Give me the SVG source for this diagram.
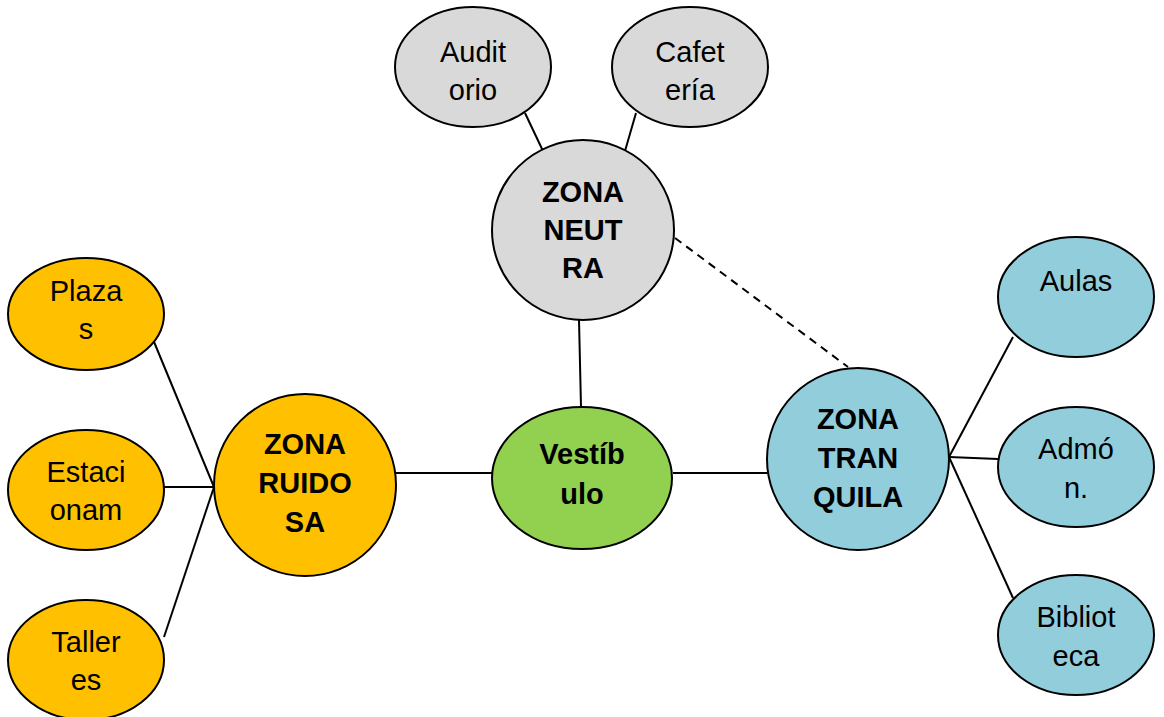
<svg xmlns="http://www.w3.org/2000/svg" width="1164" height="717" viewBox="0 0 1164 717">
<style>
.n{stroke:#000;stroke-width:2}
.y{fill:#FFC000}.g{fill:#D9D9D9}.v{fill:#92D050}.b{fill:#92CDDC}
text{font-family:"Liberation Sans",Arial,sans-serif;font-size:29px;fill:#000;text-anchor:middle}
.bd{font-weight:bold}
.c line{stroke:#000;stroke-width:2}
.d{stroke-dasharray:8 6}
</style>
<rect width="1164" height="717" fill="#fff"/>
<g class="c" id="connectors">
<line x1="525" y1="113" x2="543" y2="151"/>
<line x1="636" y1="113" x2="625" y2="151"/>
<line class="d" x1="675" y1="238" x2="848" y2="367"/>
<line x1="579" y1="320" x2="581" y2="407"/>
<line x1="152" y1="337" x2="214" y2="487"/>
<line x1="164" y1="487" x2="214" y2="487"/>
<line x1="164" y1="637" x2="214" y2="487"/>
<line x1="396" y1="473" x2="493" y2="473"/>
<line x1="673" y1="473" x2="768" y2="473"/>
<line x1="949" y1="457" x2="1013" y2="337"/>
<line x1="949" y1="457" x2="998" y2="459"/>
<line x1="949" y1="457" x2="1013" y2="598"/>
</g>
<g id="auditorio"><ellipse class="n g" cx="473" cy="67" rx="78" ry="60"/><text x="473" y="62">Audit</text><text x="473" y="100">orio</text></g>
<g id="cafeteria"><ellipse class="n g" cx="690" cy="67" rx="78" ry="60"/><text x="690" y="62">Cafet</text><text x="690" y="100">ería</text></g>
<g id="neutra"><ellipse class="n g" cx="583" cy="230" rx="91" ry="90"/><text class="bd" x="583" y="202">ZONA</text><text class="bd" x="583" y="240">NEUT</text><text class="bd" x="583" y="278">RA</text></g>
<g id="plazas"><ellipse class="n y" cx="86" cy="314" rx="78" ry="56"/><text x="86" y="301">Plaza</text><text x="86" y="339">s</text></g>
<g id="estacionam"><ellipse class="n y" cx="86" cy="490" rx="78" ry="60"/><text x="86" y="482">Estaci</text><text x="86" y="520">onam</text></g>
<g id="talleres"><ellipse class="n y" cx="86" cy="660" rx="78" ry="60"/><text x="86" y="652">Taller</text><text x="86" y="690">es</text></g>
<g id="ruidosa"><ellipse class="n y" cx="305" cy="485" rx="91" ry="91"/><text class="bd" x="305" y="454">ZONA</text><text class="bd" x="305" y="493">RUIDO</text><text class="bd" x="305" y="532">SA</text></g>
<g id="vestibulo"><ellipse class="n v" cx="582" cy="478" rx="90" ry="71"/><text class="bd" x="582" y="464">Vestíb</text><text class="bd" x="582" y="504">ulo</text></g>
<g id="tranquila"><ellipse class="n b" cx="858" cy="459" rx="91" ry="91"/><text class="bd" x="858" y="429">ZONA</text><text class="bd" x="858" y="468">TRAN</text><text class="bd" x="858" y="507">QUILA</text></g>
<g id="aulas"><ellipse class="n b" cx="1076" cy="297" rx="78" ry="60"/><text x="1076" y="291">Aulas</text></g>
<g id="admon"><ellipse class="n b" cx="1076" cy="467" rx="78" ry="60"/><text x="1076" y="459">Admó</text><text x="1076" y="498">n.</text></g>
<g id="biblioteca"><ellipse class="n b" cx="1076" cy="635" rx="78" ry="60"/><text x="1076" y="627">Bibliot</text><text x="1076" y="666">eca</text></g>
</svg>
